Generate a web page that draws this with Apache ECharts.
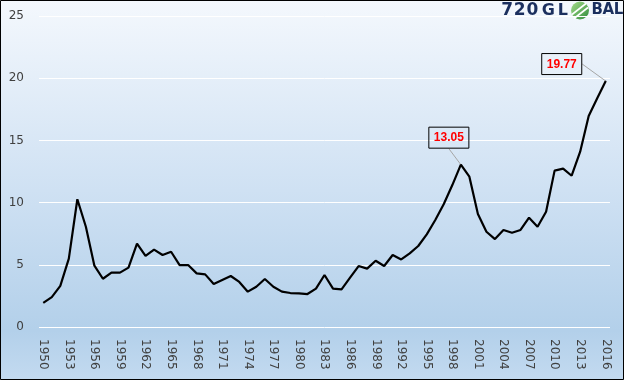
<!DOCTYPE html>
<html>
<head>
<meta charset="utf-8">
<script src="https://cdn.jsdelivr.net/npm/echarts@6/dist/echarts.min.js"></script>
<style>
html,body{margin:0;padding:0;background:#fff;}
#chart{width:624px;height:380px;}
</style>
</head>
<body>
<div id="chart"></div>
<script>
const years = ['1950','1951','1952','1953','1954','1955','1956','1957','1958','1959',
  '1960','1961','1962','1963','1964','1965','1966','1967','1968','1969',
  '1970','1971','1972','1973','1974','1975','1976','1977','1978','1979',
  '1980','1981','1982','1983','1984','1985','1986','1987','1988','1989',
  '1990','1991','1992','1993','1994','1995','1996','1997','1998','1999',
  '2000','2001','2002','2003','2004','2005','2006','2007','2008','2009',
  '2010','2011','2012','2013','2014','2015','2016'];
const values = [1.94,2.40,3.30,5.50,10.27,8.06,4.93,3.88,4.37,4.37,
  4.77,6.70,5.71,6.22,5.79,6.05,4.98,4.98,4.31,4.23,
  3.46,3.78,4.10,3.62,2.84,3.24,3.86,3.24,2.84,2.73,
  2.71,2.65,3.08,4.18,3.08,3.03,3.97,4.90,4.69,5.33,
  4.90,5.79,5.43,5.92,6.51,7.45,8.60,9.89,11.41,13.05,
  12.08,9.08,7.66,7.07,7.80,7.58,7.80,8.79,8.06,9.27,
  12.57,12.73,12.16,14.09,16.96,18.38,19.77];
const annotatedYears = ['1999','2016'];
const yTicks = [0,5,10,15,20,25];

const annIdx = annotatedYears.map(y => years.indexOf(y));
const labelOffsets = {};
labelOffsets[annIdx[0]] = {dx: -12, dy: -11};
labelOffsets[annIdx[1]] = {dx: -44, dy: -1};

const seriesData = values.map((v, i) => {
  if (annIdx.indexOf(i) >= 0) {
    return {
      value: v,
      symbol: 'circle',
      symbolSize: 1,
      itemStyle: {color: '#000'},
      label: {
        show: true,
        position: 'top',
        distance: 5,
        formatter: p => p.value.toFixed(2),
        color: '#ff0000',
        fontWeight: 'bold',
        fontSize: 12,
        lineHeight: 14,
        fontFamily: 'Liberation Sans',
        borderColor: '#000',
        borderWidth: 1,
        padding: [4, 5, 3, 5]
      },
      labelLine: {show: true, lineStyle: {color: '#a6a6a6', width: 1}}
    };
  }
  return v;
});

// logo glyphs (decoration, not data)
const logoChars = [
  {c: '7', x: 507.2, s: 17}, {c: '2', x: 519.7, s: 17}, {c: '0', x: 532.5, s: 17},
  {c: 'G', x: 548.3, s: 16}, {c: 'L', x: 562.8, s: 16},
  {c: 'B', x: 597.2, s: 15}, {c: 'A', x: 608.4, s: 15}, {c: 'L', x: 618.6, s: 15}
];
const logoGraphics = logoChars.map(o => ({
  type: 'text', x: o.x, y: 10.5, z: 10,
  style: {text: o.c, font: 'bold ' + o.s + 'px "DejaVu Sans"', fill: '#1b2f5e',
    textAlign: 'center', textVerticalAlign: 'middle'}
}));

const chart = echarts.init(document.getElementById('chart'), null, {renderer: 'canvas'});
const option = {
  animation: false,
  backgroundColor: {
    type: 'linear', x: 0, y: 0, x2: 0, y2: 1,
    colorStops: [
      {offset: 0, color: '#f4f8fd'},
      {offset: 0.5, color: '#cfe1f3'},
      {offset: 0.87, color: '#b3d0ea'},
      {offset: 1, color: '#c3daf0'}
    ]
  },
  grid: {left: 39, right: 14, top: 16, bottom: 53, containLabel: false},
  xAxis: {
    type: 'category',
    data: years,
    boundaryGap: true,
    axisLine: {show: false},
    axisTick: {show: false},
    axisLabel: {
      interval: 2,
      rotate: -90,
      margin: 12,
      fontSize: 12,
      fontFamily: 'DejaVu Sans',
      color: '#404040'
    }
  },
  yAxis: {
    type: 'value',
    min: yTicks[0],
    max: yTicks[yTicks.length - 1],
    interval: 5,
    axisLine: {show: false},
    axisTick: {show: false},
    splitLine: {show: true, lineStyle: {color: '#ffffff', width: 1}},
    axisLabel: {
      margin: 15,
      fontSize: 12,
      fontFamily: 'DejaVu Sans',
      color: '#404040'
    }
  },
  series: [{
    type: 'line',
    data: seriesData,
    symbol: 'none',
    showSymbol: true,
    showAllSymbol: true,
    smooth: false,
    lineStyle: {color: '#000', width: 2.2},
    itemStyle: {color: '#000'},
    labelLayout: function (params) {
      const o = labelOffsets[params.dataIndex];
      return o ? {dx: o.dx, dy: o.dy} : {};
    },
    labelLine: {show: true, lineStyle: {color: '#a6a6a6', width: 1}}
  }],
  graphic: logoGraphics.concat([
    {type: 'group', z: 10, children: [
      {type: 'circle', shape: {cx: 580, cy: 10.5, r: 9},
        style: {fill: {type: 'linear', x: 0, y: 0, x2: 1, y2: 1,
          colorStops: [{offset: 0, color: '#a6dc8a'}, {offset: 1, color: '#2e8b3a'}]}}},
      {type: 'line', shape: {x1: 572, y1: 14.5, x2: 586, y2: 3.5},
        style: {stroke: '#ffffff', lineWidth: 1.6}},
      {type: 'line', shape: {x1: 574, y1: 18.5, x2: 588, y2: 7.5},
        style: {stroke: '#ffffff', lineWidth: 1.6}}
    ]},
    {type: 'rect', z: 20, silent: true,
      shape: {x: 0.5, y: 0.5, width: 623, height: 379},
      style: {fill: null, stroke: '#000', lineWidth: 1}}
  ])
};
chart.setOption(option);
</script>
</body>
</html>
